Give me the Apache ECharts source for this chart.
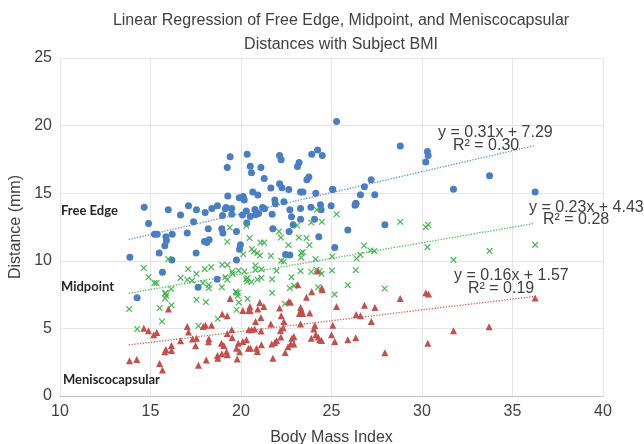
<!DOCTYPE html>
<html>
<head>
<meta charset="utf-8">
<script src="https://cdn.jsdelivr.net/npm/echarts@6/dist/echarts.min.js"></script>
<style>
  html, body { margin: 0; padding: 0; background: #fff; }
  #chart { width: 644px; height: 444px; }
</style>
</head>
<body>
<div id="chart"></div>
<script>
// BMI vs distance (mm)
var freeEdge = [
  [25.28,20.3],[19.40,17.69],[20.34,17.89],[19.24,16.9],[22.13,17.79],[22.22,17.47],[23.91,17.89],[24.23,18.19],[24.49,17.79],
  [20.51,17.0],[20.58,16.51],[21.1,16.9],[21.28,16.09],[23.21,17.27],[23.12,16.98],[23.75,16.19],[23.64,15.99],
  [22.13,15.7],[22.26,15.4],[22.64,15.27],[21.65,15.38],[20.65,15.08],[20.93,14.86],[23.29,15.08],[23.42,15.08],[24.13,15.0],[25.07,15.27],
  [19.27,14.79],[19.9,14.66],[20.12,14.76],[20.18,14.49],[21.87,14.49],[22.37,14.36],[21.9,14.22],
  [14.65,13.97],[15.98,13.77],[17.1,14.07],[17.54,13.77],[16.66,13.38],[18.02,13.57],[18.39,13.87],[18.7,14.07],[19.18,13.94],[19.13,13.85],
  [19.49,13.87],[19.49,13.45],[18.98,13.35],[20.08,13.38],[20.29,13.68],[20.51,13.28],
  [20.77,13.8],[20.97,13.5],[21.19,13.95],[21.3,13.85],[20.8,13.4],[21.72,13.45],[22.7,13.77],[23.29,13.87],[23.86,13.97],[24.39,14.14],
  [24.43,13.77],[24.98,14.07],[22.79,13.25],[23.29,13.08],
  [14.89,12.76],[15.22,11.97],[15.37,11.97],[15.85,11.77],[15.88,11.5],[16.2,11.97],[17.38,12.88],[17.03,12.05],[18.19,12.37],[17.98,11.43],
  [18.11,11.35],[18.24,11.55],[18.94,12.37],[19.0,12.05],[19.75,12.17],[20.32,12.79],[21.76,12.37],[22.66,12.17],[22.88,12.66],[24.3,11.77],[25.18,10.98],
  [15.79,11.11],[15.48,10.57],[13.86,10.27],[17.52,10.57],[19.97,11.18],[19.92,10.86],[22.46,10.47],[22.7,10.42],
  [15.66,9.16],[16.18,10.05],[17.63,8.05],[18.68,8.64],[19.75,10.05],[14.26,7.26],
  [24.06,13.08],[26.36,14.22],[25.9,12.27],
  [28.8,18.5],[30.3,18.08],[30.34,17.79],[30.21,17.3],[27.19,15.99],[26.82,15.47],[33.73,16.29],[25.06,15.3],[26.6,14.88],[27.39,14.88],
  [31.74,15.3],[36.25,15.08],[26.34,14.26],[26.3,14.1],[27.95,12.66]
];
var midpoint = [
  [24.19,13.77],[25.28,13.45],[19.38,12.46],[20.3,12.59],[23.88,12.83],[24.47,12.88],[23.1,12.61],[22.1,12.17],[22.2,11.72],[20.47,11.68],
  [19.24,11.41],[21.08,11.35],[21.28,11.35],[23.19,11.72],[23.62,11.68],[23.78,11.16],[22.62,11.16],[20.12,10.49],[20.6,10.87],[20.71,10.69],
  [20.9,10.57],[21.04,10.39],[21.65,10.37],[23.33,10.57],[23.42,10.64],[15.98,10.13],
  [28.8,12.88],[30.21,12.49],[30.34,12.66],[36.25,11.18],[26.8,11.13],[27.15,10.76],[27.36,10.72],[30.3,11.01],[33.73,10.72],[25.04,10.32],
  [26.38,10.17],[26.6,10.44],[31.74,10.07],[25.02,9.28],[26.34,9.31],[25.9,8.2],[25.17,7.51],[27.94,7.95],
  [23.33,10.24],[22.22,10.0],[22.37,9.95],[24.12,10.13],[20.8,9.65],[20.8,9.33],[21.13,9.38],[21.96,9.26],[23.29,9.24],[23.88,9.19],
  [24.17,9.33],[24.35,9.24],[24.45,9.04],
  [20.36,8.72],[20.58,8.45],[20.91,8.62],[21.13,8.74],[21.72,8.64],[22.79,8.79],[22.7,7.98],[22.94,8.15],[24.26,8.05],[21.72,7.63],
  [14.63,9.48],[14.89,8.79],[15.22,8.35],[15.33,8.35],[15.83,7.61],[16.14,7.91],[16.66,8.74],[17.08,9.39],[17.03,8.6],[17.3,8.55],
  [17.54,9.04],[18.0,9.39],[18.35,9.53],[17.89,8.35],[18.22,8.22],[18.22,7.98],[18.96,9.7],[19.25,9.7],[19.14,8.79],[19.24,8.6],
  [19.51,9.21],[19.53,9.04],[18.94,8.05],[19.86,9.28],[20.19,9.21],[20.29,8.64],[20.34,8.47],[19.71,7.73],[19.82,7.61],
  [13.82,6.43],[14.26,4.95],[15.51,6.5],[15.64,5.51],[15.81,7.61],[15.87,7.43],[15.81,7.21],[16.16,6.72],[17.54,7.12],[18.06,6.95],
  [17.65,5.19],[18.72,5.71],[19.74,7.66],[19.82,7.41],[19.88,6.92],[19.75,6.38],[20.36,7.19],[22.42,6.82]
];
var meniscocapsular = [
  [15.99,6.43],[13.84,2.6],[14.24,2.7],[14.63,5.02],[14.89,4.82],[15.18,4.53],[15.35,4.7],[15.5,2.4],[15.66,1.92],[15.79,3.27],
  [15.85,3.44],[16.16,3.37],[16.16,3.74],[16.66,4.08],[17.03,5.14],[17.1,4.73],[17.32,4.21],[17.54,4.28],[17.49,3.71],[17.65,2.28],
  [17.91,5.14],[18.04,5.24],[18.37,5.24],[18.08,2.66],[18.22,4.23],[18.2,4.01],[18.7,3.0],[18.72,2.8],[18.96,6.06],[19.24,5.93],
  [19.24,4.62],[19.49,4.9],[19.51,4.33],[18.92,3.91],[19.05,3.74],[19.2,3.27],[19.85,3.91],[20.1,4.03],[20.3,4.16],[19.75,3.54],
  [19.92,3.27],[19.79,2.73],[19.4,7.21],[20.1,6.32],[20.43,6.32],[20.43,4.9],[20.41,3.54],[18.94,3.12],[19.24,3.05],
  [23.62,7.31],[23.91,7.71],[24.49,7.86],[22.64,6.99],[22.73,6.94],[22.13,6.5],[23.29,6.55],[23.33,6.38],[23.23,6.1],[23.41,6.1],
  [23.8,6.13],[21.04,6.92],[21.26,6.62],[20.93,6.43],[20.51,6.3],[21.1,5.81],[22.22,5.93],[22.37,5.51],[20.8,5.51],[21.65,5.32],
  [23.29,5.32],[24.08,5.21],[24.02,4.95],[20.58,4.9],[20.75,4.95],[21.11,4.8],[25.07,5.24],[24.13,4.53],[24.26,4.36],[23.88,4.28],
  [24.45,4.11],[24.34,4.16],[25.0,4.53],[25.18,4.03],[25.9,4.16],[26.34,4.31],[25.28,6.62],[26.36,6.03],[26.6,5.93],[26.82,6.72],
  [27.4,6.55],[27.2,5.51],[22.2,4.36],[21.96,4.11],[21.87,3.96],[22.81,4.28],[22.75,3.84],[22.92,3.84],[22.6,3.64],[20.52,3.54],
  [20.86,3.54],[20.9,3.29],[21.13,3.79],[21.7,3.84],[22.44,3.22],[21.76,2.8],
  [28.8,7.21],[30.21,7.63],[30.36,7.54],[36.25,7.24],[27.95,3.2],[30.32,3.91],[31.74,4.82],[33.71,5.12],
  [23.14,8.22],[24.46,7.98],[24.23,9.24],[22.18,4.84],[22.33,5.04],[22.92,4.4],[20.49,6.62]
];

// trendline ends
var freeEdgeTrend = [[13.8, 11.57], [36.25, 18.53]];
var midpointTrend = [[13.8, 7.6], [36.2, 12.76]];
var meniscoTrend = [[13.8, 3.78], [36.2, 7.36]];

var trendText = [
  ['y = 0.31x + 7.29', 'R² = 0.30'],
  ['y = 0.23x + 4.43', 'R² = 0.28'],
  ['y = 0.16x + 1.57', 'R² = 0.19']
];
var groupNames = ['Free Edge', 'Midpoint', 'Meniscocapsular'];

var xMark = 'path://M1,0 L5,4 L9,0 L10,1 L6,5 L10,9 L9,10 L5,6 L1,10 L0,9 L4,5 L0,1 Z';

var chart = echarts.init(document.getElementById('chart'));

function eqText(txt, left, top) {
  return {
    type: 'text', left: left, top: top, z: 100,
    style: { text: txt, fill: '#404040', font: '16px "Liberation Sans", Arial, sans-serif' }
  };
}
function groupText(txt, left, top) {
  return {
    type: 'text', left: left, top: top, z: 100,
    style: { text: txt, fill: '#262626', font: 'bold 13px Lato, "Open Sans", sans-serif' }
  };
}

var option = {
  animation: false,
  backgroundColor: '#fff',
  textStyle: { fontFamily: '"Liberation Sans", Arial, sans-serif' },
  title: {
    text: 'Linear Regression of Free Edge, Midpoint, and Meniscocapsular\nDistances with Subject BMI',
    left: 336, top: 4, textAlign: 'center',
    textStyle: { fontSize: 16, fontWeight: 'normal', color: '#404040', lineHeight: 24 }
  },
  grid: { left: 60, right: 41, top: 58, bottom: 48, containLabel: false, outerBoundsMode: 'none' },
  xAxis: {
    type: 'value', min: 10, max: 40, interval: 5,
    name: 'Body Mass Index', nameLocation: 'middle', nameGap: 34,
    nameTextStyle: { fontSize: 16, color: '#404040' },
    axisLine: { show: true, lineStyle: { color: '#bfbfbf' } },
    axisTick: { show: false },
    axisLabel: { fontSize: 16, color: '#404040', margin: 8 },
    splitLine: { show: true, lineStyle: { color: '#e6e6e6' } }
  },
  yAxis: {
    type: 'value', min: 0, max: 25, interval: 5,
    name: 'Distance (mm)', nameLocation: 'middle', nameGap: 32,
    nameTextStyle: { fontSize: 16, color: '#404040' },
    axisLine: { show: false },
    axisTick: { show: false },
    axisLabel: { fontSize: 16, color: '#404040', margin: 8 },
    splitLine: { show: true, lineStyle: { color: '#e6e6e6' } }
  },
  series: [
    { name: groupNames[0], type: 'scatter', data: freeEdge, symbol: 'circle', symbolSize: 7,
      itemStyle: { color: '#4a7ec2', opacity: 1 } },
    { name: groupNames[1], type: 'scatter', data: midpoint, symbol: xMark, symbolSize: 6,
      itemStyle: { color: '#3cb24a', borderColor: '#3cb24a', borderWidth: 0.4, opacity: 1 } },
    { name: groupNames[2], type: 'scatter', data: meniscocapsular, symbol: 'triangle', symbolSize: 7,
      itemStyle: { color: '#c44f4c', opacity: 1 } },
    { type: 'line', data: freeEdgeTrend, symbol: 'none', z: 1,
      lineStyle: { color: '#5b8fd3', width: 1.3, type: [1.3, 1.5] } },
    { type: 'line', data: midpointTrend, symbol: 'none', z: 1,
      lineStyle: { color: '#4dbb5a', width: 1.3, type: [1.3, 1.5] } },
    { type: 'line', data: meniscoTrend, symbol: 'none', z: 1,
      lineStyle: { color: '#d45f5c', width: 1.3, type: [1.3, 1.5] } }
  ],
  graphic: [
    eqText(trendText[0][0], 438, 125), eqText(trendText[0][1], 453, 138),
    eqText(trendText[1][0], 529, 200), eqText(trendText[1][1], 543, 212),
    eqText(trendText[2][0], 454, 268), eqText(trendText[2][1], 468, 281),
    groupText(groupNames[0], 61, 204),
    groupText(groupNames[1], 61, 280),
    groupText(groupNames[2], 63, 373)
  ]
};
chart.setOption(option);
</script>
</body>
</html>
